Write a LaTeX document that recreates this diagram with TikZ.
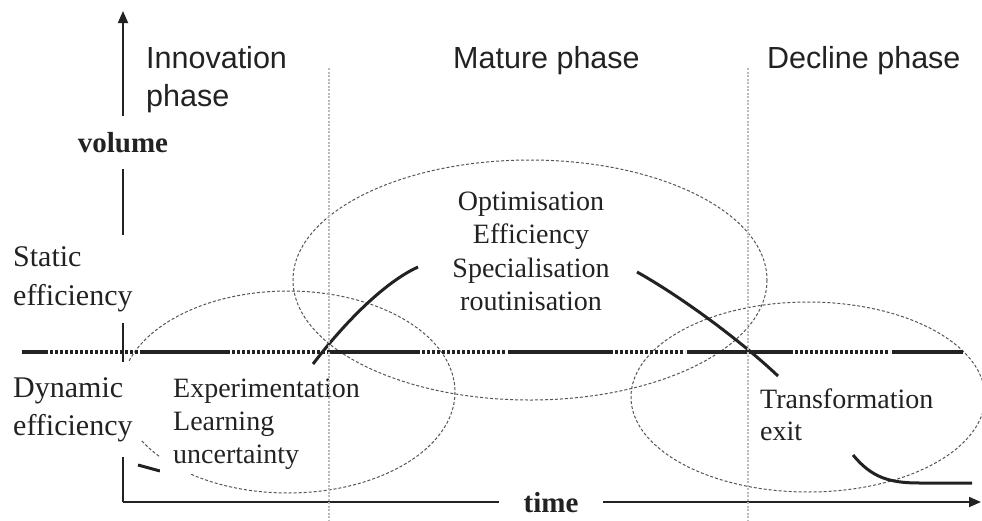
\documentclass[tikz,border=0pt]{standalone}
\usepackage{fontspec}
\setmainfont{Liberation Serif}
\newfontfamily\titlefont{Liberation Sans}
\usetikzlibrary{arrows.meta,fit}
\pgfdeclarelayer{back}
\pgfdeclarelayer{mid}
\pgfsetlayers{back,mid,main}
\definecolor{ink}{HTML}{222222}
\definecolor{ellcol}{HTML}{555555}
\definecolor{guide}{HTML}{BBBBBB}
\begin{document}
\begin{tikzpicture}[x=1pt,y=-1pt,
  inner/.style={inner sep=0pt, anchor=base west, text=ink, font=\fontsize{28}{33}\selectfont},
  innerc/.style={inner sep=0pt, anchor=base, text=ink, font=\fontsize{28}{33}\selectfont},
  side/.style={inner sep=0pt, anchor=base west, text=ink, font=\fontsize{30}{37}\selectfont},
  axlabel/.style={inner sep=0pt, anchor=base, text=ink, font=\fontsize{29}{34}\selectfont\bfseries},
  phase/.style={inner sep=0pt, anchor=base west, text=ink, font=\titlefont\fontsize{30.5}{38}\selectfont},
  mask/.style={fill=white, draw=none},
  axis/.style={draw=ink, line width=1.8pt, -{Triangle[length=12pt,width=10pt]}},
  zone/.style={draw=ellcol, line width=1pt, dash pattern=on 3pt off 2pt},
  divider/.style={draw=guide, line width=1.6pt, dash pattern=on 2pt off 1.5pt},
  effsolid/.style={draw=ink, line width=3.4pt},
  effdot/.style={draw=ink, line width=3.2pt, dash pattern=on 3pt off 2pt},
  trend/.style={draw=ink, line width=3pt}]
\useasboundingbox (0,0) rectangle (982,520);

% ---------- text ----------
\node[phase] (inno1) at (146,68) {Innovation};
\node[phase] (inno2) at (146,106) {phase};
\node[phase] (mature) at (453,68) {Mature phase};
\node[phase] (decline) at (767,68) {Decline phase};

\node[axlabel] (vol) at (123,152) {volume};
\node[axlabel] (time) at (551,512) {time};

\node[side] (st1) at (13,266) {Static};
\node[side] (st2) at (13,305) {efficiency};
\node[side] (dy1) at (13,397) {Dynamic};
\node[side] (dy2) at (13,435) {efficiency};

\node[inner] (ex1) at (173,397) {Experimentation};
\node[inner] (ex2) at (173,430) {Learning};
\node[inner] (ex3) at (173,463) {uncertainty};

\node[innerc] (op1) at (531,210) {Optimisation};
\node[innerc] (op2) at (531,243) {Efficiency};
\node[innerc] (op3) at (531,277) {Specialisation};
\node[innerc] (op4) at (531,310) {routinisation};

\node[inner] (tr1) at (760,408) {Transformation};
\node[inner] (tr2) at (760,440) {exit};

% ---------- white masks behind text ----------
\begin{pgfonlayer}{mid}
\node[mask, fit=(vol), inner xsep=4pt, inner ysep=16pt] (volbox) {};
\node[mask, fit=(time), inner xsep=24pt, inner ysep=7pt] (timebox) {};
\node[mask, fit=(st1)(st2), inner xsep=5pt, inner ysep=11pt] (stbox) {};
\node[mask, fit=(dy1)(dy2), inner xsep=8pt, inner ysep=15pt] (dybox) {};
\node[mask, fit=(ex1)(ex2)(ex3), inner xsep=13pt, inner ysep=5pt] (exbox) {};
\node[mask, fit=(op1)(op2)(op3)(op4), inner xsep=25pt, inner ysep=6pt] (opbox) {};
\end{pgfonlayer}

% ---------- coordinates ----------
\coordinate (origin) at (123,502);
\coordinate (ytop) at (123,11);
\coordinate (xend) at (981,502);
\coordinate (c1) at (288,392);
\coordinate (c2) at (530,280);
\coordinate (c3) at (808,397);
\coordinate (g1t) at (329,68);
\coordinate (g1b) at (329,520);
\coordinate (g2t) at (748,68);
\coordinate (g2b) at (748,520);
\coordinate (r0) at (313,364);
\coordinate (r1) at (418,267);
\coordinate (f0) at (637,272);
\coordinate (f1) at (778,376);
\coordinate (d0) at (853,455);
\coordinate (d1) at (920,483);
\coordinate (d2) at (972,483);
\coordinate (s0) at (138,465);
\coordinate (s1) at (160,471);

% ---------- drawing underneath ----------
\begin{pgfonlayer}{back}
\draw[zone] (c1) ellipse [x radius=167, y radius=101];
\draw[zone] (c2) ellipse [x radius=237, y radius=120];
\draw[zone] (c3) ellipse [x radius=177, y radius=95];

\foreach \a/\b in {22/45,140/230,327/420,508/613,687/793,892/963}
  \draw[effsolid] (\a,352) -- (\b,352);
\foreach \a/\b in {45/138,232/325,422/506,615/685,795/890}
  \draw[effdot] (\a,352) -- (\b,352);

\draw[trend] (r0) .. controls (345,322) and (385,282) .. (r1);
\draw[trend] (f0) .. controls (680,296) and (740,340) .. (f1);
\draw[trend] (d0) .. controls (872,478) and (890,483) .. (d1) -- (d2);
\draw[trend] (s0) -- (s1);

\draw[axis] (origin) -- (ytop);
\draw[axis] (origin) -- (xend);
\end{pgfonlayer}

% ---------- phase dividers ----------
\draw[divider] (g1t) -- (g1b);
\draw[divider] (g2t) -- (g2b);
\end{tikzpicture}
\end{document}
